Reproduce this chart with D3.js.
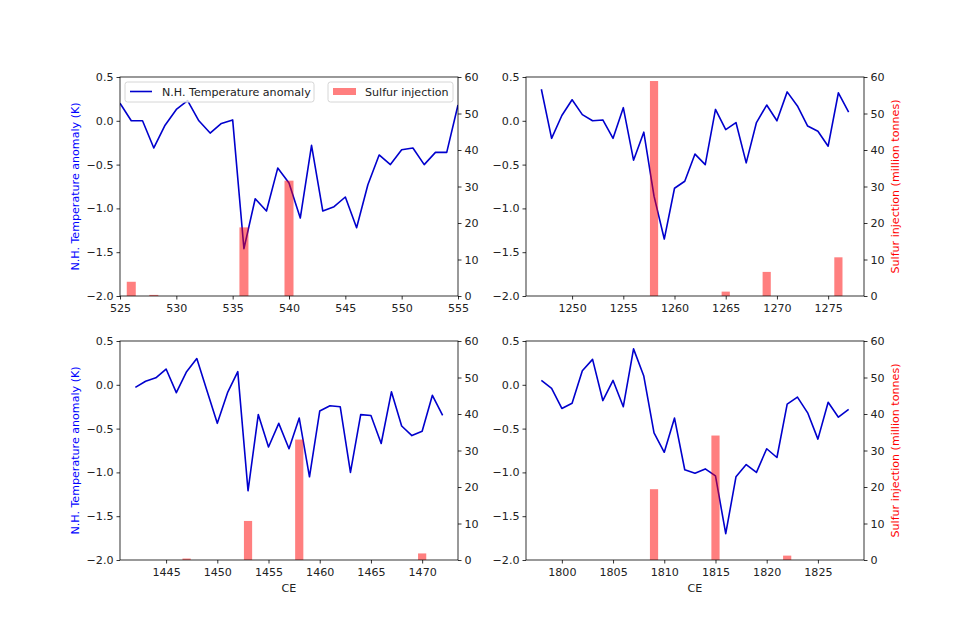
<!DOCTYPE html>
<html><head><meta charset="utf-8">
<script src="https://cdn.jsdelivr.net/npm/d3@7"></script>
<style>
body{margin:0;background:#fff;}
svg{font-family:"DejaVu Sans",sans-serif;}
</style></head><body>
<svg id="chart" width="960" height="640"></svg>
<script>
// ---- data ----
const years525 = d3.range(525, 556);
const temp525 = [0.20,0.00,0.00,-0.31,-0.05,0.13,0.23,0.00,-0.14,-0.03,0.01,-1.46,-0.89,-1.03,-0.54,-0.71,-1.11,-0.28,-1.03,-0.98,-0.87,-1.22,-0.73,-0.39,-0.50,-0.33,-0.31,-0.50,-0.36,-0.36,0.18];
const sulfYears525 = [526,528,536,540];
const sulf525 = [3.9,0.3,18.8,31.6];

const years1247 = d3.range(1247, 1278);
const temp1247 = [0.36,-0.20,0.06,0.24,0.07,0.00,0.01,-0.20,0.15,-0.45,-0.13,-0.86,-1.35,-0.77,-0.69,-0.38,-0.50,0.13,-0.10,-0.02,-0.48,-0.02,0.18,0.00,0.33,0.17,-0.06,-0.12,-0.29,0.32,0.10];
const sulfYears1247 = [1258,1265,1269,1276];
const sulf1247 = [58.9,1.2,6.6,10.6];

const years1442 = d3.range(1442, 1473);
const temp1442 = [-0.03,0.04,0.08,0.18,-0.09,0.15,0.30,-0.07,-0.44,-0.09,0.15,-1.21,-0.34,-0.71,-0.44,-0.73,-0.38,-1.05,-0.30,-0.24,-0.25,-1.00,-0.34,-0.35,-0.67,-0.08,-0.47,-0.58,-0.53,-0.12,-0.35];
const sulfYears1442 = [1447,1453,1458,1470];
const sulf1442 = [0.4,10.7,33.0,1.8];

const years1798 = d3.range(1798, 1829);
const temp1798 = [0.05,-0.04,-0.27,-0.21,0.16,0.29,-0.18,0.05,-0.25,0.41,0.10,-0.55,-0.77,-0.38,-0.97,-1.01,-0.96,-1.04,-1.70,-1.05,-0.91,-1.00,-0.73,-0.83,-0.22,-0.14,-0.32,-0.62,-0.20,-0.37,-0.28];
const sulfYears1798 = [1809,1815,1822];
const sulf1798 = [19.4,34.1,1.2];

const tempTicks = [-2.0,-1.5,-1.0,-0.5,0.0,0.5];
const sulfTicks = [0,10,20,30,40,50,60];
const xTicks525 = [525,530,535,540,545,550,555];
const xTicks1247 = [1250,1255,1260,1265,1270,1275];
const xTicks1442 = [1445,1450,1455,1460,1465,1470];
const xTicks1798 = [1800,1805,1810,1815,1820,1825];

const tempLabel = "N.H. Temperature anomaly (K)";
const sulfLabel = "Sulfur injection (million tonnes)";
const xLabel = "CE";
const legendTemp = "N.H. Temperature anomaly";
const legendSulf = "Sulfur injection";

// ---- layout ----
const panels = [
  {years:years525,temp:temp525,sy:sulfYears525,sv:sulf525,xt:xTicks525,dom:[525,555],x0:120,x1:458,y0:77,y1:296,left:true,right:false,bottom:false,legend:true},
  {years:years1247,temp:temp1247,sy:sulfYears1247,sv:sulf1247,xt:xTicks1247,dom:[1245.5,1278.5],x0:526,x1:864,y0:77,y1:296,left:false,right:true,bottom:false,legend:false},
  {years:years1442,temp:temp1442,sy:sulfYears1442,sv:sulf1442,xt:xTicks1442,dom:[1440.5,1473.5],x0:120,x1:458,y0:341,y1:560,left:true,right:false,bottom:true,legend:false},
  {years:years1798,temp:temp1798,sy:sulfYears1798,sv:sulf1798,xt:xTicks1798,dom:[1796.5,1829.5],x0:526,x1:864,y0:341,y1:560,left:false,right:true,bottom:true,legend:false}
];

const svg = d3.select("#chart");
const FS = 11.1;
const lineColor = "#0000cd";
const barColor = "#ff0000";
const tickLen = 3.5;

function styleAxis(g){
  g.selectAll("path.domain").remove();
  g.selectAll(".tick line").attr("stroke","#000").attr("stroke-width",0.8);
  g.selectAll(".tick text").attr("font-size",FS).attr("fill","#222").attr("font-family","DejaVu Sans");
}

panels.forEach(p=>{
  const x = d3.scaleLinear().domain(p.dom).range([p.x0,p.x1]);
  const y = d3.scaleLinear().domain([-2,0.5]).range([p.y1,p.y0]);
  const y2 = d3.scaleLinear().domain([0,60]).range([p.y1,p.y0]);
  const g = svg.append("g");

  g.append("defs").append("clipPath").attr("id","clip"+p.x0+"_"+p.y0)
    .append("rect").attr("x",p.x0).attr("y",p.y0).attr("width",p.x1-p.x0).attr("height",p.y1-p.y0);
  const plot = g.append("g").attr("clip-path","url(#clip"+p.x0+"_"+p.y0+")");

  const line = d3.line().x((d,i)=>x(p.years[i])).y(d=>y(d));
  plot.append("path").datum(p.temp).attr("d",line)
    .attr("fill","none").attr("stroke",lineColor).attr("stroke-width",1.6).attr("stroke-linejoin","round");

  const bw = x(p.dom[0]+0.8)-x(p.dom[0]);
  plot.selectAll("rect.bar").data(p.sv).enter().append("rect")
    .attr("class","bar")
    .attr("x",(d,i)=>x(p.sy[i])-bw/2)
    .attr("width",bw)
    .attr("y",d=>y2(d))
    .attr("height",d=>p.y1-y2(d))
    .attr("fill",barColor).attr("fill-opacity",0.5);

  // axes
  const ax = g.append("g").attr("transform",`translate(0,${p.y1})`)
    .call(d3.axisBottom(x).tickValues(p.xt).tickFormat(d3.format("d")).tickSizeInner(tickLen).tickSizeOuter(0).tickPadding(4.5));
  styleAxis(ax);
  const ay = g.append("g").attr("transform",`translate(${p.x0},0)`)
    .call(d3.axisLeft(y).tickValues(tempTicks).tickFormat(d3.format(".1f")).tickSizeInner(tickLen).tickSizeOuter(0).tickPadding(3));
  styleAxis(ay);
  const ay2 = g.append("g").attr("transform",`translate(${p.x1},0)`)
    .call(d3.axisRight(y2).tickValues(sulfTicks).tickFormat(d3.format("d")).tickSizeInner(tickLen).tickSizeOuter(0).tickPadding(3));
  styleAxis(ay2);

  g.append("rect").attr("x",p.x0).attr("y",p.y0).attr("width",p.x1-p.x0).attr("height",p.y1-p.y0)
    .attr("fill","none").attr("stroke","#000").attr("stroke-width",0.8);

  if(p.left){
    g.append("text").attr("transform",`translate(${p.x0-45},${(p.y0+p.y1)/2}) rotate(-90)`)
      .attr("text-anchor","middle").attr("dominant-baseline","central").attr("font-size",FS).attr("fill","#0000ff").text(tempLabel);
  }
  if(p.right){
    g.append("text").attr("transform",`translate(${p.x1+31},${(p.y0+p.y1)/2}) rotate(-90)`)
      .attr("text-anchor","middle").attr("dominant-baseline","central").attr("font-size",FS).attr("fill","#ff0000").text(sulfLabel);
  }
  if(p.bottom){
    g.append("text").attr("x",(p.x0+p.x1)/2).attr("y",p.y1+28).attr("text-anchor","middle").attr("dominant-baseline","central")
      .attr("font-size",FS).attr("fill","#222").text(xLabel);
  }
  if(p.legend){
    const lg = g.append("g");
    lg.append("rect").attr("x",p.x0+5).attr("y",p.y0+5).attr("width",189).attr("height",20).attr("rx",2.5)
      .attr("fill","#fff").attr("fill-opacity",0.8).attr("stroke","#d6d6d6");
    lg.append("line").attr("x1",p.x0+10).attr("x2",p.x0+32).attr("y1",p.y0+14.5).attr("y2",p.y0+14.5)
      .attr("stroke",lineColor).attr("stroke-width",1.6);
    lg.append("text").attr("x",p.x0+42).attr("y",p.y0+15).attr("dominant-baseline","central")
      .attr("font-size",FS).attr("fill","#222").text(legendTemp);
    const rl = p.x1-5-125;
    lg.append("rect").attr("x",rl).attr("y",p.y0+5).attr("width",125).attr("height",20).attr("rx",2.5)
      .attr("fill","#fff").attr("fill-opacity",0.8).attr("stroke","#d6d6d6");
    lg.append("rect").attr("x",rl+5).attr("y",p.y0+11).attr("width",23).attr("height",7)
      .attr("fill",barColor).attr("fill-opacity",0.5);
    lg.append("text").attr("x",rl+37).attr("y",p.y0+15).attr("dominant-baseline","central")
      .attr("font-size",FS).attr("fill","#222").text(legendSulf);
  }
});
</script>
</body></html>
